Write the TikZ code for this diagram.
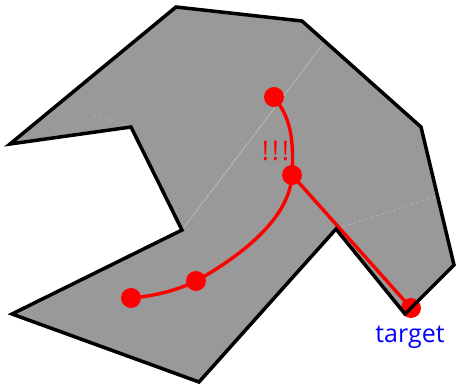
\documentclass[tikz,border=0pt]{standalone}
\usepackage{fontspec}
\setmainfont{Open Sans}
\newfontfamily\spacedfont[LetterSpace=10]{Open Sans}
\tikzset{
  region/.style={fill=black!40},
  border/.style={draw=black, line width=3.5pt, line join=miter},
  redpath/.style={draw=red, line width=3.4pt},
  dot/.style={circle, fill=red, inner sep=0pt, minimum size=20pt},
}
\begin{document}
\begin{tikzpicture}[x=1pt,y=-1pt]
\useasboundingbox (0,0) rectangle (456,386);
\coordinate (P1) at (176,7);
\coordinate (P2) at (302,21);
\coordinate (P3) at (421,127);
\coordinate (P4) at (454,265);
\coordinate (P5) at (405,314);
\coordinate (P6) at (336,229);
\coordinate (P7) at (199,382);
\coordinate (P8) at (12,314);
\coordinate (P9) at (182,230);
\coordinate (P10) at (131,127);
\coordinate (P11) at (10,144);
\fill[region] (P1) -- (P2) -- (P3) -- (P4) -- (P5) -- (P6) -- (P7) -- (P8) -- (P9) -- (P10) -- (P11) -- cycle;
% faint interior lines
\draw[white, opacity=0.45, line width=0.5pt] (P9) -- (323,44);
\draw[white, opacity=0.35, line width=0.5pt, dashed] (P6) -- (435,197);
\draw[white, opacity=0.25, line width=0.5pt, dashed] (93,115) -- (P10);
\draw[white, opacity=0.25, line width=0.5pt, dotted] (152,115) -- (P9);
% red path
\coordinate (A) at (274,97);
\coordinate (B) at (292,175);
\coordinate (C) at (196,281);
\coordinate (D) at (131,298);
\coordinate (E) at (411,308);
\draw[redpath] (D) .. controls (155,296) and (178,290) .. (C)
  .. controls (248,252) and (290,215) .. (B)
  .. controls (294,140) and (291,118) .. (A);
\draw[redpath] (B) -- (E);
\node[dot] (dA) at (A) {};
\node[dot] (dB) at (B) {};
\node[dot] (dC) at (C) {};
\node[dot] (dD) at (D) {};
\node[dot] (dE) at (E) {};
\draw[border] (P1) -- (P2) -- (P3) -- (P4) -- (P5) -- (P6) -- (P7) -- (P8) -- (P9) -- (P10) -- (P11) -- cycle;
\node[text=red, font=\spacedfont\fontsize{27}{30}\selectfont] (warn) at (275.5,151) {!!!};
\node[text=blue, font=\fontsize{25}{29}\selectfont] (tgt) at (410,337) {target};
\end{tikzpicture}
\end{document}
